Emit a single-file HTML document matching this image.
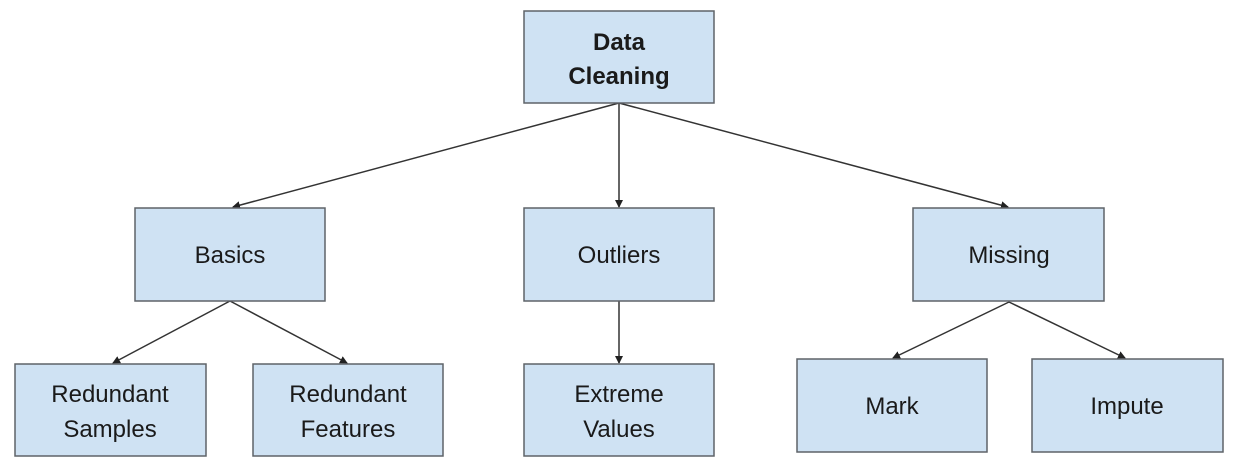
<!DOCTYPE html>
<html><head><style>
body{margin:0;background:#fff;}
svg{display:block}
rect{fill:#cfe2f3;stroke:#5f6368;stroke-width:1.5}
text{font-family:"Liberation Sans",Arial,sans-serif;font-size:24px;fill:#1a1a1a;text-anchor:middle}
line{stroke:#333;stroke-width:1.5}
</style></head><body>
<svg width="1240" height="468" viewBox="0 0 1240 468">
<defs><marker id="a" markerWidth="8" markerHeight="8" refX="7" refY="4" orient="auto" markerUnits="userSpaceOnUse"><path d="M0,0 L8,4 L0,8z" fill="#222"/></marker></defs>
<line x1="619" y1="103" x2="233" y2="207" marker-end="url(#a)"/>
<line x1="619" y1="103" x2="619" y2="207" marker-end="url(#a)"/>
<line x1="619" y1="103" x2="1008" y2="207" marker-end="url(#a)"/>
<line x1="230" y1="301" x2="113" y2="363" marker-end="url(#a)"/>
<line x1="230" y1="301" x2="347" y2="363" marker-end="url(#a)"/>
<line x1="619" y1="301" x2="619" y2="363" marker-end="url(#a)"/>
<line x1="1009" y1="302" x2="893" y2="358" marker-end="url(#a)"/>
<line x1="1009" y1="302" x2="1125" y2="358" marker-end="url(#a)"/>
<rect x="524" y="11" width="190" height="92"/>
<text x="619" y="50" font-weight="bold" style="font-weight:bold">Data</text>
<text x="619" y="84" style="font-weight:bold">Cleaning</text>
<rect x="135" y="208" width="190" height="93"/><text x="230" y="263">Basics</text>
<rect x="524" y="208" width="190" height="93"/><text x="619" y="263">Outliers</text>
<rect x="913" y="208" width="191" height="93"/><text x="1009" y="263">Missing</text>
<rect x="15" y="364" width="191" height="92"/><text x="110" y="402">Redundant</text><text x="110" y="437">Samples</text>
<rect x="253" y="364" width="190" height="92"/><text x="348" y="402">Redundant</text><text x="348" y="437">Features</text>
<rect x="524" y="364" width="190" height="92"/><text x="619" y="402">Extreme</text><text x="619" y="437">Values</text>
<rect x="797" y="359" width="190" height="93"/><text x="892" y="414">Mark</text>
<rect x="1032" y="359" width="191" height="93"/><text x="1127" y="414">Impute</text>
</svg>
</body></html>
